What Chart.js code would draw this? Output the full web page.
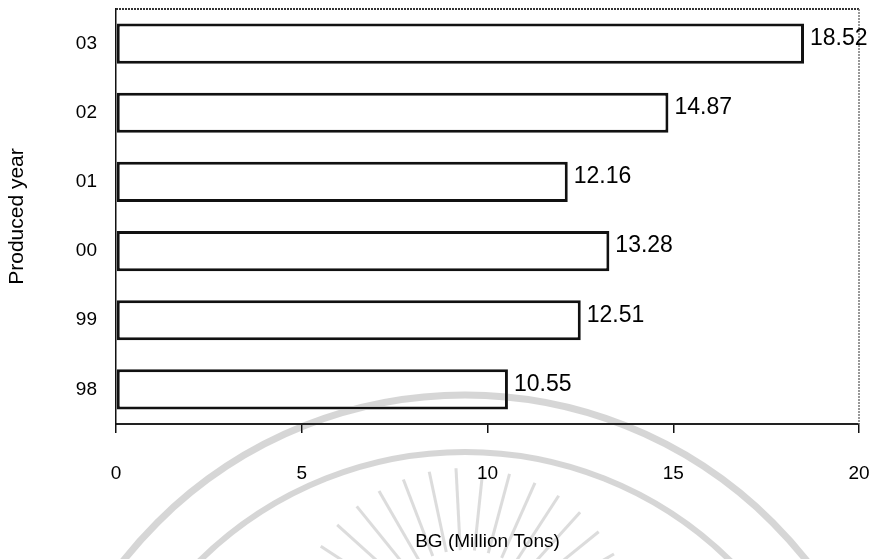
<!DOCTYPE html>
<html>
<head>
<meta charset="utf-8">
<title>BG by produced year</title>
<script src="https://cdn.jsdelivr.net/npm/chart.js@4/dist/chart.umd.min.js"></script>
<style>
  html, body { margin: 0; padding: 0; background: #fff; }
  #wrap { width: 873px; height: 559px; }
</style>
</head>
<body>
<div id="wrap"><canvas id="bgChart" width="873" height="559"></canvas></div>
<script>
// Data
var years = ['03', '02', '01', '00', '99', '98'];
var bgValues = [18.52, 14.87, 12.16, 13.28, 12.51, 10.55];
var xTicks = [0, 5, 10, 15, 20];

var FONT = "'Liberation Sans', Arial, sans-serif";

// white page behind everything
var whiteBg = {
    id: 'whiteBg',
    beforeDraw: function(chart) {
        var ctx = chart.ctx;
        ctx.save();
        ctx.fillStyle = '#fff';
        ctx.fillRect(0, 0, chart.width, chart.height);
        ctx.restore();
    }
};

// dotted frame on top and right of the plot area
var plotFrame = {
    id: 'plotFrame',
    beforeDatasetsDraw: function(chart) {
        var a = chart.chartArea, ctx = chart.ctx;
        ctx.save();
        ctx.setLineDash([2, 1]);
        ctx.lineWidth = 2;
        ctx.strokeStyle = '#333';
        ctx.beginPath();
        ctx.moveTo(a.left, a.top);
        ctx.lineTo(a.right, a.top);
        ctx.stroke();
        ctx.strokeStyle = '#777';
        ctx.lineWidth = 1.5;
        ctx.beginPath();
        ctx.moveTo(a.right, a.top);
        ctx.lineTo(a.right, a.bottom);
        ctx.stroke();
        ctx.restore();
    }
};

// value written just right of each bar
var valueLabels = {
    id: 'valueLabels',
    afterDatasetsDraw: function(chart) {
        var ctx = chart.ctx;
        var meta = chart.getDatasetMeta(0);
        ctx.save();
        ctx.font = '23px ' + FONT;
        ctx.fillStyle = '#000';
        ctx.textAlign = 'left';
        ctx.textBaseline = 'middle';
        for (var i = 0; i < meta.data.length; i++) {
            var bar = meta.data[i];
            ctx.fillText(bgValues[i].toFixed(2), bar.x + 6, bar.y - 5);
        }
        ctx.restore();
    }
};

// faint seal watermark printed over the page
var watermark = {
    id: 'watermark',
    afterDraw: function(chart) {
        var ctx = chart.ctx;
        ctx.save();
        ctx.globalCompositeOperation = 'darken';
        ctx.strokeStyle = '#d6d6d6';
        ctx.lineWidth = 7;
        ctx.beginPath();
        ctx.arc(465, 830, 435, Math.PI, 2 * Math.PI);
        ctx.stroke();
        ctx.lineWidth = 6;
        ctx.beginPath();
        ctx.arc(465, 830, 378, Math.PI, 2 * Math.PI);
        ctx.stroke();
        ctx.lineWidth = 3;
        ctx.strokeStyle = '#dcdcdc';
        for (var d = -165; d <= -15; d += 9) {
            var r = d * Math.PI / 180;
            ctx.beginPath();
            ctx.moveTo(465 + Math.cos(r) * 90, 640 + Math.sin(r) * 90);
            ctx.lineTo(465 + Math.cos(r) * 172, 640 + Math.sin(r) * 172);
            ctx.stroke();
        }
        ctx.restore();
    }
};

var ctx = document.getElementById('bgChart').getContext('2d');
var bgChart = new Chart(ctx, {
    type: 'bar',
    data: {
        labels: years,
        datasets: [{
            label: 'BG',
            data: bgValues,
            backgroundColor: '#ffffff',
            borderColor: '#111',
            borderWidth: 3,
            borderSkipped: false,
            categoryPercentage: 1,
            barPercentage: 0.58
        }]
    },
    options: {
        indexAxis: 'y',
        responsive: false,
        devicePixelRatio: 1,
        animation: false,
        layout: { padding: { top: 9, right: 14, left: 0, bottom: 0 } },
        plugins: {
            legend: { display: false },
            tooltip: { enabled: false }
        },
        scales: {
            x: {
                min: 0,
                max: 20,
                afterBuildTicks: function(scale) {
                    scale.ticks = xTicks.map(function(v) { return { value: v }; });
                },
                afterFit: function(scale) {
                    scale.height = 135;
                    scale.paddingLeft = 0;
                    scale.paddingRight = 0;
                },
                grid: {
                    display: true,
                    drawOnChartArea: false,
                    drawTicks: true,
                    tickLength: 9,
                    color: '#111',
                    lineWidth: 1.5
                },
                border: { display: true, color: '#222', width: 2, dash: [2, 1] },
                ticks: {
                    color: '#000',
                    padding: 29,
                    maxRotation: 0,
                    font: { family: FONT, size: 19 }
                },
                title: {
                    display: true,
                    text: 'BG (Million Tons)',
                    color: '#000',
                    padding: { top: 0, bottom: 6 },
                    font: { family: FONT, size: 19 }
                }
            },
            y: {
                afterFit: function(scale) {
                    scale.width = 116;
                    scale.paddingTop = 0;
                    scale.paddingBottom = 0;
                },
                grid: { display: false, drawTicks: false },
                border: { display: true, color: '#111', width: 1.5 },
                ticks: {
                    color: '#000',
                    padding: 19,
                    font: { family: FONT, size: 19 }
                },
                title: {
                    display: true,
                    text: 'Produced year',
                    color: '#000',
                    padding: { top: 5, bottom: 0 },
                    font: { family: FONT, size: 21 }
                }
            }
        }
    },
    plugins: [whiteBg, plotFrame, valueLabels, watermark]
});
</script>
</body>
</html>
